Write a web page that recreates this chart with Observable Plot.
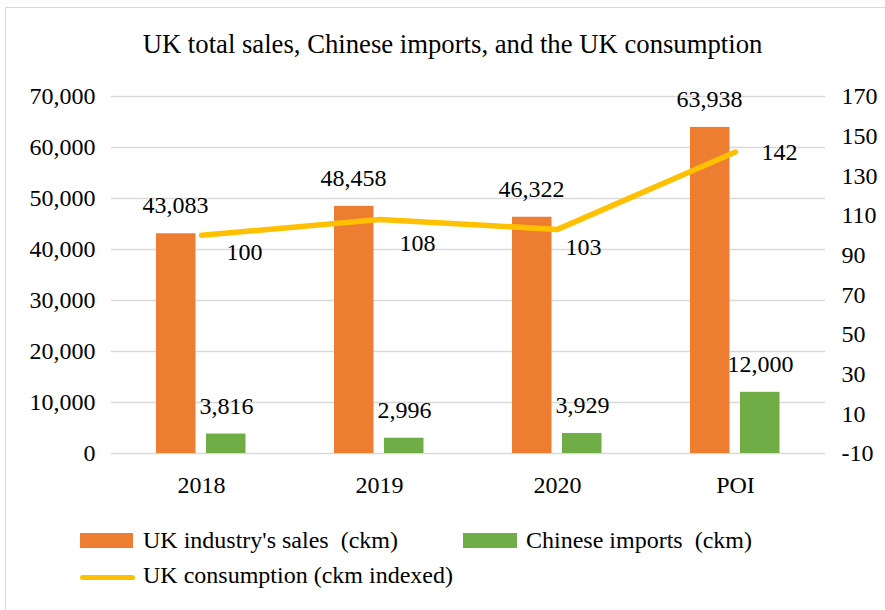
<!DOCTYPE html>
<html><head><meta charset="utf-8">
<script src="https://cdn.jsdelivr.net/npm/d3@7"></script>
<script src="https://cdn.jsdelivr.net/npm/@observablehq/plot@0.6"></script>
<style>
body{margin:0;background:#fff;overflow:hidden}
#wrap{position:relative;width:885px;height:610px;overflow:hidden;font-family:"Liberation Serif","Times New Roman",serif;color:#000;background:#fff}
#border{position:absolute;left:5px;top:7px;width:900px;height:620px;border:1.5px solid #d9d9d9;box-sizing:border-box}
#title{position:absolute;left:0;width:905px;top:30.6px;text-align:center;font-size:26.7px;line-height:1;white-space:nowrap}
#chart{position:absolute;left:0;top:70px}
#chart svg, #chart svg text, #chart svg g{font-family:"Liberation Serif","Times New Roman",serif !important}
.leg{position:absolute;font-size:24px;line-height:1;white-space:pre}
.sw{position:absolute}
</style></head>
<body><div id="wrap"><div id="border"></div><div id="title"></div><div id="chart"></div><div id="legend"></div></div>
<script>
const titleText = "UK total sales, Chinese imports, and the UK consumption";
const categories = ["2018", "2019", "2020", "POI"];
const ukSales = [43083, 48458, 46322, 63938];
const chineseImports = [3816, 2996, 3929, 12000];
const ukConsumptionIndex = [100, 108, 103, 142];
const leftTicks = [0, 10000, 20000, 30000, 40000, 50000, 60000, 70000];
const rightTicks = [-10, 10, 30, 50, 70, 90, 110, 130, 150, 170];
const seriesNames = ["UK industry's sales  (ckm)", "Chinese imports  (ckm)", "UK consumption (ckm indexed)"];
const seriesColors = ["#ED7D31", "#70AD47", "#FFC000"];

const rMin = rightTicks[0], rMax = rightTicks[rightTicks.length - 1];
const lMin = leftTicks[0], lMax = leftTicks[leftTicks.length - 1];
const toLeft = v => lMin + (v - rMin) / (rMax - rMin) * (lMax - lMin);
const fromLeft = v => rMin + (v - lMin) / (lMax - lMin) * (rMax - rMin);
const fmt = d3.format(",");

const rows = categories.map((c, i) => ({cat: c, sales: ukSales[i], imports: chineseImports[i], idx: ukConsumptionIndex[i]}));

document.getElementById("title").textContent = titleText;

const lineLabelOffsets = [[25, 17], [20, 24], [8, 18], [26, 0]];

const plot = Plot.plot({
  width: 885, height: 455,
  marginTop: 26, marginBottom: 72, marginLeft: 111, marginRight: 60,
  style: {fontFamily: "Liberation Serif", fontSize: "24px", color: "#000", background: "transparent", overflow: "visible"},
  x: {domain: categories, padding: 0, label: null},
  y: {domain: [lMin, lMax], label: null},
  marks: [
    Plot.gridY(leftTicks, {stroke: "#d9d9d9", strokeOpacity: 1, strokeWidth: 1.5}),
    Plot.barY(rows, {x: "cat", y: "sales", fill: seriesColors[0], insetLeft: 44, insetRight: 94.5}),
    Plot.barY(rows, {x: "cat", y: "imports", fill: seriesColors[1], insetLeft: 94, insetRight: 44.5}),
    Plot.line(rows, {x: "cat", y: d => toLeft(d.idx), stroke: seriesColors[2], strokeWidth: 5.5, strokeLinecap: "round", strokeLinejoin: "round"}),
    Plot.text(rows, {x: "cat", y: "sales", text: d => fmt(d.sales), dx: -26, dy: -28, fill: "#000"}),
    Plot.text(rows, {x: "cat", y: "imports", text: d => fmt(d.imports), dx: 25, dy: -28, fill: "#000"}),
    ...rows.map((r, i) => Plot.text([r], {x: "cat", y: d => toLeft(d.idx), text: d => String(d.idx), textAnchor: "start", dx: lineLabelOffsets[i][0], dy: lineLabelOffsets[i][1], fill: "#000"})),
    Plot.axisY(leftTicks, {anchor: "left", tickSize: 0, tickPadding: 16, tickFormat: fmt, label: null}),
    Plot.axisY(rightTicks.map(toLeft), {anchor: "right", tickSize: 0, tickPadding: 16, tickFormat: d => String(Math.round(fromLeft(d))), label: null}),
    Plot.axisX({tickSize: 0, tickPadding: 22, label: null})
  ]
});
document.getElementById("chart").appendChild(plot);

const legend = document.getElementById("legend");
function addSwatch(left, top, w, h, color, radius) {
  const s = document.createElement("div");
  s.className = "sw";
  Object.assign(s.style, {left: left + "px", top: top + "px", width: w + "px", height: h + "px", background: color, borderRadius: radius + "px"});
  legend.appendChild(s);
}
function addLabel(left, top, text) {
  const t = document.createElement("div");
  t.className = "leg";
  t.style.left = left + "px"; t.style.top = top + "px";
  t.textContent = text;
  legend.appendChild(t);
}
addSwatch(80, 533, 53, 15, seriesColors[0], 0);
addLabel(143, 528, seriesNames[0]);
addSwatch(463, 533, 54, 15, seriesColors[1], 0);
addLabel(526, 528, seriesNames[1]);
addSwatch(80, 574.5, 55, 5.5, seriesColors[2], 3);
addLabel(143, 563, seriesNames[2]);
</script>
</body></html>
